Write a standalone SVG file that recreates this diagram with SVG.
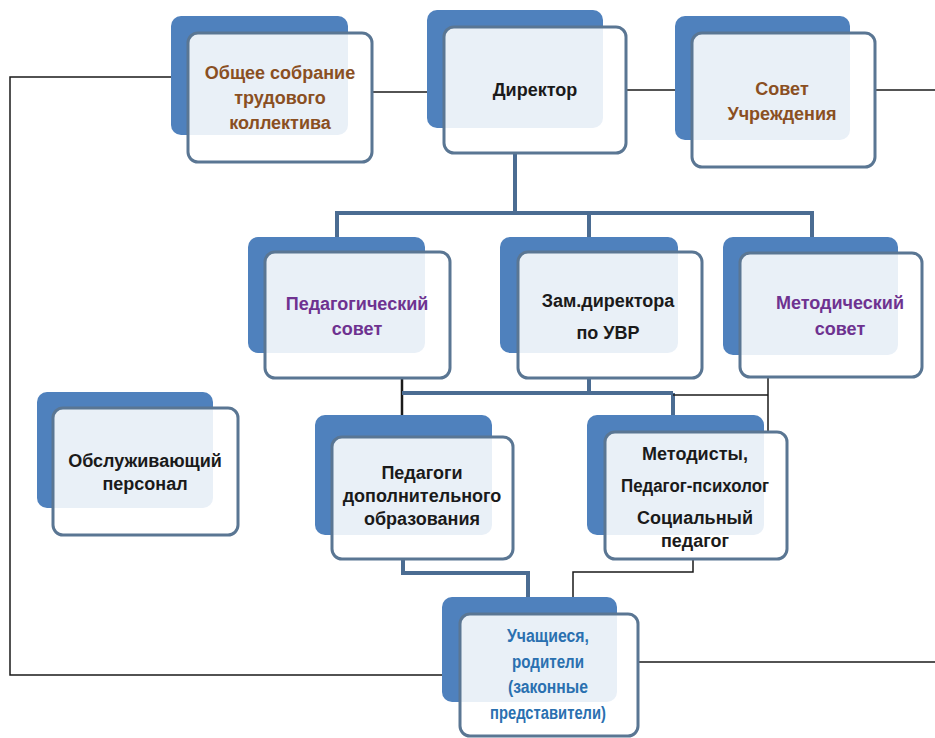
<svg xmlns="http://www.w3.org/2000/svg" width="935" height="738" viewBox="0 0 935 738">
<style>
.back{fill:#4f81bd;}
.front{fill:#ffffff;fill-opacity:0.88;stroke:#5a7693;stroke-width:3;}
.t{font-family:"Liberation Sans",Arial,sans-serif;font-weight:bold;font-size:18px;text-anchor:middle;}
.brown{fill:#8a4f22;}
.purple{fill:#6e3290;}
.black{fill:#1a1a1a;}
.teal{fill:#2a70b0;}
.thin{fill:none;stroke:#1a1a1a;stroke-width:1.5;}
.bus{fill:none;stroke:#4b6c92;stroke-width:4;}
</style>
<rect width="935" height="738" fill="#ffffff"/>
<g id="connectors">
<polyline class="thin" points="171,77 10,77 10,675 445,675"/>
<line class="thin" x1="372" y1="92" x2="427" y2="92"/>
<line class="thin" x1="626" y1="90" x2="675" y2="90"/>
<line class="thin" x1="875" y1="90" x2="935" y2="90"/>
<line class="bus" x1="515" y1="153" x2="515" y2="213"/>
<polyline class="bus" points="337,237 337,213 812,213 812,237"/>
<line class="bus" x1="589" y1="213" x2="589" y2="237"/>
<line class="thin" x1="402" y1="378" x2="402" y2="415" style="stroke-width:2.5"/>
<line class="bus" x1="402" y1="393" x2="673" y2="393"/>
<line class="bus" x1="589" y1="378" x2="589" y2="393"/>
<line class="bus" x1="673" y1="393" x2="673" y2="415"/>
<polyline class="thin" points="673,395 768,395"/>
<line class="thin" x1="768" y1="377" x2="768" y2="432"/>
<polyline class="bus" points="403,560 403,573 528,573 528,597"/>
<polyline class="thin" points="693,560 693,572 573,572 573,597"/>
<line class="thin" x1="638" y1="662" x2="935" y2="662"/>
</g>
<g id="obshee">
<rect class="back" x="171" y="16" width="177" height="119" rx="10"/>
<rect class="front" x="188" y="33" width="184" height="129" rx="10"/>
<text class="t brown" x="280" y="79">Общее собрание</text>
<text class="t brown" x="280" y="104">трудового</text>
<text class="t brown" x="280" y="129">коллектива</text>
</g>
<g id="direktor">
<rect class="back" x="427" y="10" width="176" height="118" rx="10"/>
<rect class="front" x="444" y="27" width="182" height="126" rx="10"/>
<text class="t black" x="535" y="96">Директор</text>
</g>
<g id="sovet">
<rect class="back" x="675" y="16" width="175" height="124" rx="10"/>
<rect class="front" x="692" y="33" width="183" height="134" rx="10"/>
<text class="t brown" x="782" y="95">Совет</text>
<text class="t brown" x="782" y="120">Учреждения</text>
</g>
<g id="pedsovet">
<rect class="back" x="248" y="237" width="177" height="116" rx="10"/>
<rect class="front" x="265" y="252" width="185" height="126" rx="10"/>
<text class="t purple" x="357" y="310">Педагогический</text>
<text class="t purple" x="357" y="335">совет</text>
</g>
<g id="zam">
<rect class="back" x="500" y="237" width="178" height="116" rx="10"/>
<rect class="front" x="518" y="252" width="184" height="126" rx="10"/>
<text class="t black" x="608" y="307">Зам.директора</text>
<text class="t black" x="608" y="339">по УВР</text>
</g>
<g id="metsovet">
<rect class="back" x="723" y="237" width="175" height="118" rx="10"/>
<rect class="front" x="740" y="253" width="182" height="124" rx="10"/>
<text class="t purple" x="840" y="309">Методический</text>
<text class="t purple" x="840" y="335">совет</text>
</g>
<g id="obsluzh">
<rect class="back" x="37" y="392" width="176" height="116" rx="10"/>
<rect class="front" x="53" y="408" width="185" height="127" rx="10"/>
<text class="t black" x="145" y="467">Обслуживающий</text>
<text class="t black" x="145" y="490">персонал</text>
</g>
<g id="pedagogi">
<rect class="back" x="315" y="415" width="177" height="120" rx="10"/>
<rect class="front" x="332" y="437" width="181" height="122" rx="10"/>
<text class="t black" x="422" y="479">Педагоги</text>
<text class="t black" x="422" y="502">дополнительного</text>
<text class="t black" x="422" y="525">образования</text>
</g>
<g id="metodisty">
<rect class="back" x="587" y="415" width="177" height="120" rx="10"/>
<rect class="front" x="605" y="432" width="182" height="127" rx="10"/>
<text class="t black" x="695" y="460">Методисты,</text>
<text class="t black" x="695" y="492" textLength="148" lengthAdjust="spacingAndGlyphs">Педагог-психолог</text>
<text class="t black" x="695" y="524">Социальный</text>
<text class="t black" x="695" y="547">педагог</text>
</g>
<g id="uchashiesya">
<rect class="back" x="442" y="597" width="175" height="105" rx="10"/>
<rect class="front" x="460" y="614" width="178" height="122" rx="10"/>
<text class="t teal" x="548" y="642" textLength="82" lengthAdjust="spacingAndGlyphs">Учащиеся,</text>
<text class="t teal" x="548" y="668" textLength="72" lengthAdjust="spacingAndGlyphs">родители</text>
<text class="t teal" x="548" y="693" textLength="80" lengthAdjust="spacingAndGlyphs">(законные</text>
<text class="t teal" x="548" y="719" textLength="116" lengthAdjust="spacingAndGlyphs">представители)</text>
</g>
</svg>
